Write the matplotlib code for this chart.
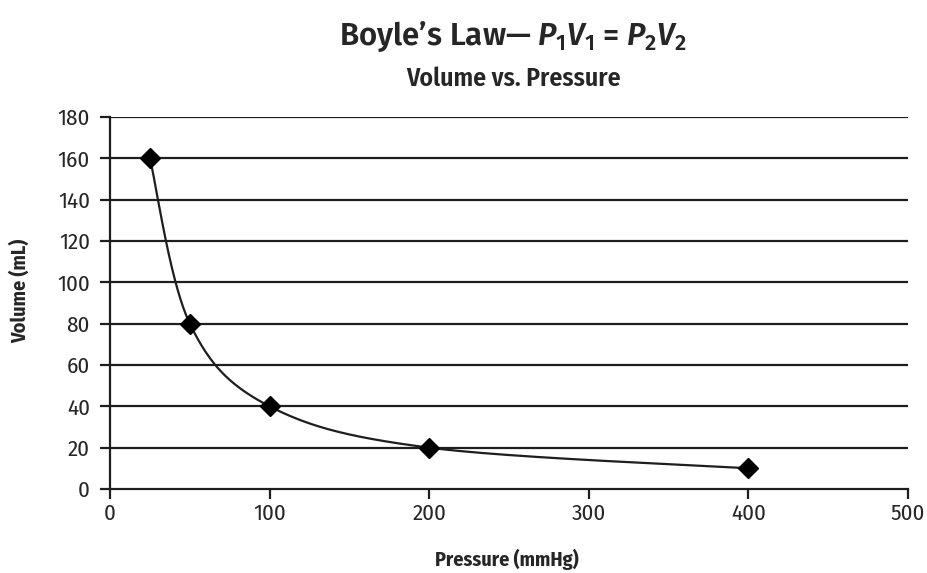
import numpy as np
import matplotlib
matplotlib.use("Agg")
import matplotlib.pyplot as plt

pressure = [25, 50, 100, 200, 400]
volume = [160, 80, 40, 20, 10]
x_ticks = [0, 100, 200, 300, 400, 500]
y_ticks = [0, 20, 40, 60, 80, 100, 120, 140, 160, 180]

cond = "Fira Sans Condensed"
plt.rcParams["mathtext.fontset"] = "custom"
plt.rcParams["mathtext.it"] = "Fira Sans:italic:semibold"
plt.rcParams["mathtext.rm"] = "Fira Sans:semibold"
plt.rcParams["mathtext.bf"] = "Fira Sans:bold"


def smooth_curve(xs, ys, xr, yr, aspect, n=60):
    """Cubic Bezier smoothing through the points, tangents taken in screen-like space."""
    px = (np.asarray(xs, float) - xr[0]) / (xr[1] - xr[0])
    py = (np.asarray(ys, float) - yr[0]) / (yr[1] - yr[0]) * aspect
    pts = np.column_stack([px, py])
    out = []
    for i in range(len(pts) - 1):
        p0 = pts[i - 1] if i > 0 else pts[i]
        p1, p2 = pts[i], pts[i + 1]
        p3 = pts[i + 2] if i + 2 < len(pts) else pts[i + 1]
        c1 = p1 + (p2 - p0) / 6
        c2 = p2 - (p3 - p1) / 6
        t = np.linspace(0, 1, n)[:, None]
        seg = ((1 - t) ** 3 * p1 + 3 * (1 - t) ** 2 * t * c1
               + 3 * (1 - t) * t ** 2 * c2 + t ** 3 * p2)
        out.append(seg)
    c = np.vstack(out)
    cx = c[:, 0] * (xr[1] - xr[0]) + xr[0]
    cy = c[:, 1] / aspect * (yr[1] - yr[0]) + yr[0]
    return cx, cy


fig = plt.figure(figsize=(9.27, 5.73), dpi=100)
ax = fig.add_axes([0.1187, 0.1466, 0.8608, 0.6492])
xr, yr = (0, 500), (0, 180)
ax.set_xlim(*xr)
ax.set_ylim(*yr)

ink = "#1e1e1e"
text_col = "#262626"
for y in y_ticks[1:]:
    ax.axhline(y, color=ink, lw=1.6, zorder=1)

cx, cy = smooth_curve(pressure, volume, xr, yr, aspect=372 / 798)
ax.plot(cx, cy, color=ink, lw=1.6, zorder=2)
ax.plot(pressure, volume, linestyle="none", marker="D", markersize=10,
        color="black", zorder=3, clip_on=False)

for s in ("top", "right"):
    ax.spines[s].set_visible(False)
for s in ("left", "bottom"):
    ax.spines[s].set_color(ink)
    ax.spines[s].set_linewidth(1.6)

ax.set_xticks(x_ticks)
ax.set_yticks(y_ticks)
ax.tick_params(direction="out", length=7.5, width=1.6, color=ink, labelcolor=text_col,
               labelsize=16.5)
ax.tick_params(axis="y", pad=7)
ax.tick_params(axis="x", pad=2.5)
for lab in ax.get_xticklabels() + ax.get_yticklabels():
    lab.set_family(cond)

ax.text(0.4975, -0.19, "Pressure (mmHg)", transform=ax.transAxes, ha="center", va="center",
        family=cond, fontweight="bold", fontsize=14.5, color=text_col)
ax.text(-0.113, 0.532, "Volume (mL)", transform=ax.transAxes, ha="center", va="center",
        rotation=90, family=cond, fontweight="bold", fontsize=14.5, color=text_col)

fig.text(0.5535, 0.937, "Boyle\u2019s Law\u2014 $P_1V_1$ = $P_2V_2$", ha="center", va="center",
         family="Fira Sans", fontweight="semibold", fontsize=22.5, color=text_col)
fig.text(0.5535, 0.862, "Volume vs. Pressure", ha="center", va="center",
         family=cond, fontweight="semibold", fontsize=18.5, color=text_col)

fig.savefig("out.png", dpi=100)
